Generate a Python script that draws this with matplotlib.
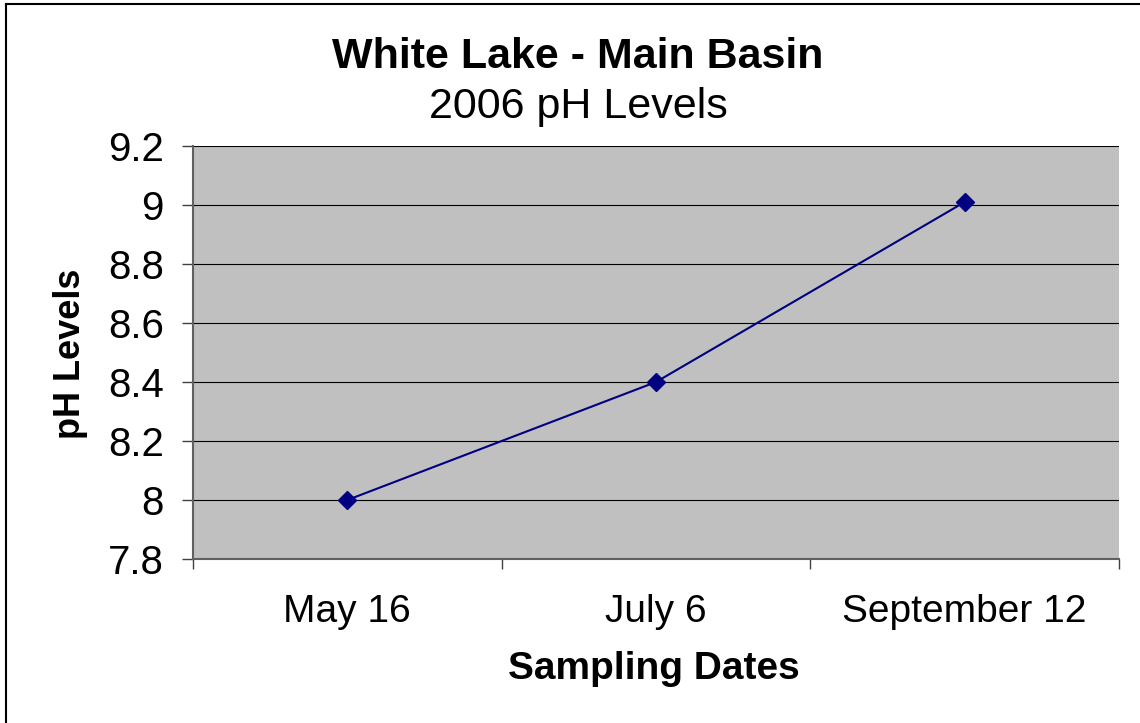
import matplotlib.pyplot as plt
from matplotlib.lines import Line2D

dates = ['May 16', 'July 6', 'September 12']
ph = [8.0, 8.4, 9.01]
yticks = [7.8, 8.0, 8.2, 8.4, 8.6, 8.8, 9.0, 9.2]
ytick_labels = ['7.8', '8', '8.2', '8.4', '8.6', '8.8', '9', '9.2']

plt.rcParams['font.family'] = ['Liberation Sans', 'DejaVu Sans']

W, H = 1140, 723
fig = plt.figure(figsize=(W / 100, H / 100), dpi=100)

# outer chart border
fig.add_artist(Line2D([6 / W, 6 / W], [0, 1 - 4 / H], color='black', lw=1.5))
fig.add_artist(Line2D([6 / W, 1], [1 - 4 / H, 1 - 4 / H], color='black', lw=1.5))

ax = fig.add_axes([193 / W, (H - 559) / H, (1119 - 193) / W, (559 - 146) / H])
ax.set_facecolor('#C0C0C0')

x = list(range(len(dates)))
ax.plot(x, ph, color='#000080', lw=1.5, marker='D', markersize=9)

ax.set_xlim(-0.5, len(dates) - 0.5)
ax.set_ylim(7.8, 9.2)
ax.set_yticks(yticks)
ax.set_yticklabels(ytick_labels, fontsize=29)
ax.yaxis.grid(True, color='black', lw=0.8)
ax.set_axisbelow(True)

# category ticks between groups, labels centred
ax.set_xticks([i - 0.5 for i in range(len(dates) + 1)])
ax.set_xticklabels([])
ax.set_xticks(x, minor=True)
ax.set_xticklabels(dates, minor=True, fontsize=28)
ax.tick_params(axis='x', which='minor', length=0, pad=25)
ax.tick_params(axis='x', which='major', length=7, color='#404040', width=1)
ax.tick_params(axis='y', length=8, color='#404040', width=1, pad=13)

for s in ['top', 'right']:
    ax.spines[s].set_visible(False)
for s in ['left', 'bottom']:
    ax.spines[s].set_color('#606060')
    ax.spines[s].set_linewidth(1.5)

fig.text(578 / W, 1 - 57 / H, 'White Lake - Main Basin', ha='center', va='center',
         fontsize=31, fontweight='bold')
fig.text(578 / W, 1 - 107 / H, '2006 pH Levels', ha='center', va='center', fontsize=31)
fig.text(70 / W, 1 - 354 / H, 'pH Levels', ha='center', va='center', rotation=90,
         fontsize=26, fontweight='bold')
fig.text(654 / W, 1 - 669 / H, 'Sampling Dates', ha='center', va='center',
         fontsize=28, fontweight='bold')

fig.savefig('out.png', dpi=100)
